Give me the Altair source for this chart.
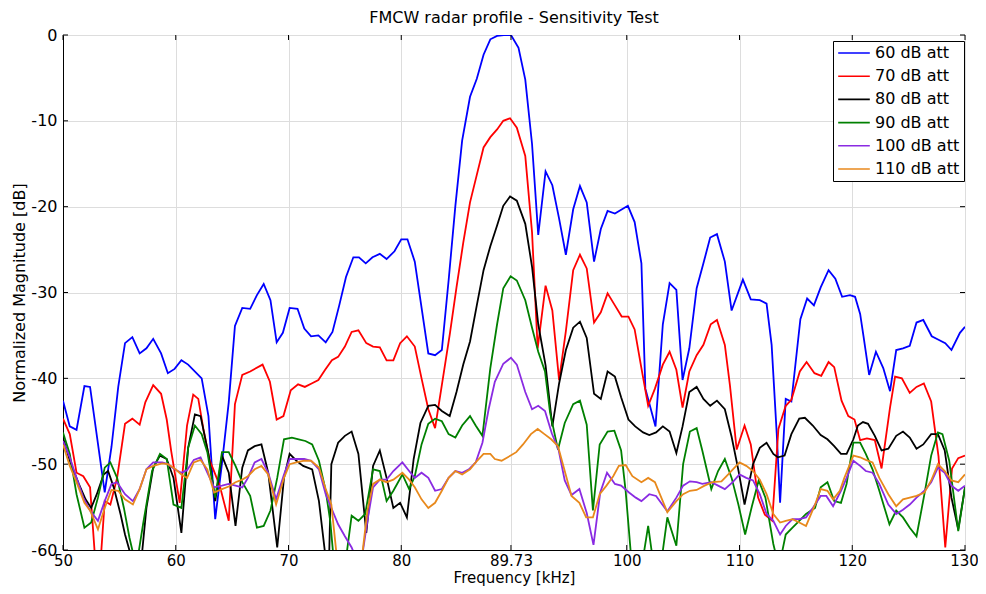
import altair as alt
import pandas as pd

# ---- data ----
series_names = ["60 dB att", "70 dB att", "80 dB att", "90 dB att", "100 dB att", "110 dB att"]
series_colors = ["#0000FF", "#FF0000", "#000000", "#008000", "#8A2BE2", "#E8891C"]

x_ticks = [50, 60, 70, 80, 89.73, 100, 110, 120, 130]
y_ticks = [-60, -50, -40, -30, -20, -10, 0]

blue_x = [50.0, 50.6, 51.2, 51.9, 52.4, 53.7, 54.3, 54.9, 55.5, 56.15, 56.8, 57.4, 58.0, 58.7, 59.3, 59.9,
          60.5, 61.1, 62.3, 62.9, 63.5, 64.1, 64.7, 65.25, 65.9, 66.6, 67.2, 67.8, 68.4, 68.95, 69.5,
          70.1, 70.8, 71.4, 72.0, 72.65, 73.3, 73.9, 74.5, 75.1, 75.75, 76.25, 76.85, 77.45, 78.1, 78.7,
          79.4, 80.0, 80.55, 81.2, 82.4, 83.0, 83.6, 84.2, 84.8, 85.4, 86.1, 86.7, 87.3, 87.9, 88.5, 89.1,
          89.73, 90.4, 91.0, 91.6, 92.15, 92.8, 93.4, 94.0, 94.6, 95.25, 95.85, 96.45, 97.1, 97.7, 98.3,
          98.95, 100.1, 100.7, 101.3, 101.65, 102.55, 103.2, 103.8, 104.4, 104.95, 105.55, 106.2, 106.8,
          107.4, 108.0, 108.7, 109.3, 110.3, 111.0, 111.8, 112.4, 112.85, 113.3, 113.6, 114.1, 114.6,
          115.4, 116.0, 116.6, 117.2, 117.9, 118.5, 119.1, 119.8, 120.25, 120.7, 121.0, 121.5, 122.1,
          122.75, 123.35, 123.9, 124.5, 125.1, 125.7, 126.3, 127.05, 127.65, 128.25, 128.8, 129.55, 130.0]
blue_y = [-42.6, -45.6, -46.0, -40.9, -41.0, -53.3, -48.0, -41.0, -35.9, -35.2, -37.1, -36.5, -35.4, -37.1, -39.4, -38.9,
          -37.9, -38.4, -40.0, -44.4, -56.4, -49.9, -42.8, -33.9, -31.8, -31.9, -30.3, -29.0, -30.9, -35.8, -34.7,
          -31.8, -31.9, -34.2, -35.1, -35.0, -35.8, -34.6, -31.5, -28.2, -25.9, -25.9, -26.6, -25.9, -25.5, -26.1,
          -25.2, -23.8, -23.8, -26.4, -37.1, -37.3, -36.7, -28.6, -19.9, -12.3, -7.2, -5.1, -2.3, -0.5, -0.1, 0.0,
          0.0, -1.5, -5.2, -12.7, -23.3, -15.9, -17.5, -21.4, -25.6, -20.3, -17.6, -19.5, -26.4, -22.6, -20.5,
          -20.8, -19.9, -21.8, -26.6, -41.2, -45.6, -33.7, -28.9, -29.7, -40.2, -36.5, -29.5, -26.6,
          -23.6, -23.2, -26.4, -32.1, -28.5, -30.8, -30.9, -31.3, -36.1, -46.4, -54.5, -42.4, -42.7,
          -33.1, -30.7, -31.5, -29.4, -27.4, -28.4, -30.5, -30.3, -30.5, -32.5, -35.1, -39.6, -36.9,
          -38.8, -41.5, -36.7, -36.5, -36.2, -33.5, -33.2, -35.1, -35.5, -35.9, -36.7, -34.7, -34.0]

red_x = [50.0, 50.6, 51.2, 51.8, 52.4, 52.9, 53.3, 53.7, 54.2, 54.8, 55.5, 56.15, 56.8, 57.3, 58.0, 58.7, 59.2,
         59.6, 60.35, 61.0, 61.55, 62.0, 62.45, 63.0, 63.9, 64.7, 65.25, 65.9, 66.6, 67.7, 68.35, 68.95, 69.55,
         70.2, 70.85, 71.45, 72.05, 72.65, 73.25, 73.85, 74.4, 75.0, 75.6, 76.2, 76.9, 77.5, 78.1, 78.7, 79.3,
         79.9, 80.5, 81.2, 81.8, 82.4, 83.0, 83.6, 84.3, 84.9, 85.5, 86.1, 86.7, 87.3, 87.9, 88.5, 89.05, 89.65,
         90.25, 91.0, 91.6, 92.1, 92.8, 93.4, 94.0, 94.6, 95.25, 95.85, 96.45, 97.1, 97.7, 98.3, 98.95, 99.55,
         100.15, 100.7, 101.3, 101.9, 102.5, 103.2, 103.8, 104.4, 104.95, 105.55, 106.2, 106.8, 107.45, 108.0,
         108.7, 109.15, 109.75, 110.45, 111.0, 111.65, 112.25, 112.9, 113.45, 114.1, 114.6, 115.35, 115.95,
         116.65, 117.25, 117.9, 118.4, 119.05, 119.65, 120.2, 120.7, 121.3, 122.0, 122.6, 123.35, 123.8, 124.4,
         125.1, 125.7, 126.35, 127.0, 127.65, 128.25, 128.85, 129.4, 130.0]
red_y = [-44.7, -46.5, -51.0, -51.4, -52.7, -62.0, -62.0, -54.3, -54.7, -51.6, -45.3, -44.7, -45.4, -42.8, -40.8, -41.8, -44.8,
         -48.5, -54.5, -45.5, -41.9, -42.4, -45.9, -49.5, -52.5, -56.6, -43.0, -39.6, -39.2, -38.4, -40.4, -44.8, -44.4,
         -41.4, -40.7, -41.0, -40.6, -40.2, -39.0, -37.9, -37.5, -36.3, -34.6, -34.4, -35.9, -36.3, -36.4, -37.9, -37.9,
         -35.9, -35.1, -36.3, -40.0, -43.6, -45.8, -40.8, -34.9, -29.4, -24.2, -19.5, -16.3, -13.1, -11.9, -11.0, -10.0, -9.7,
         -10.8, -14.1, -23.0, -36.5, -29.2, -32.1, -40.2, -34.5, -27.4, -25.6, -27.2, -33.5, -32.3, -30.1, -31.5, -32.8,
         -32.8, -34.3, -38.8, -43.2, -41.2, -38.4, -36.9, -39.0, -43.4, -39.2, -37.3, -36.1, -33.7, -33.2,
         -36.1, -40.8, -48.3, -45.5, -47.7, -53.9, -55.9, -56.6, -45.9, -43.2, -42.5, -39.2, -38.1,
         -39.4, -39.7, -38.1, -38.7, -42.6, -44.4, -44.8, -47.2, -47.0, -47.2, -50.5, -43.4, -39.8, -40.0,
         -41.7, -41.0, -40.6, -42.7, -49.1, -59.7, -50.5, -49.3, -49.0]

black_x = [50.0, 50.6, 51.4, 52.0, 52.5, 53.0, 53.6, 54.0, 54.5, 55.1, 55.5, 56.1, 56.6, 57.0, 57.4, 58.0, 58.6,
           59.2, 59.8, 60.5, 61.1, 61.7, 62.2, 62.9, 63.5, 64.1, 64.7, 65.3, 65.9, 66.4, 67.0, 67.6, 68.2, 69.0,
           69.6, 70.1, 70.7, 71.3, 72.1, 72.7, 73.3, 73.6, 73.8, 74.4, 75.0, 75.6, 76.2, 76.9, 77.5, 78.1, 78.7,
           79.3, 79.9, 80.5, 81.1, 81.7, 82.4, 83.0, 83.6, 84.3, 84.9, 85.5, 86.1, 86.7, 87.3, 87.9, 88.5, 89.05,
           89.65, 90.25, 91.0, 91.6, 92.15, 92.8, 93.4, 94.0, 94.6, 95.25, 95.85, 96.45, 97.1, 97.7, 98.3, 98.95,
           99.5, 100.15, 100.75, 101.45, 102.0, 102.6, 103.2, 103.8, 104.4, 104.95, 105.55, 106.2, 106.8, 107.4,
           108.0, 108.7, 109.3, 109.9, 110.45, 111.2, 111.8, 112.4, 113.0, 113.4, 114.0, 114.6, 115.3, 115.8,
           116.5, 117.2, 117.8, 118.4, 119.0, 119.5, 120.1, 120.5, 120.95, 121.4, 122.0, 122.6, 123.2, 123.9,
           124.5, 125.1, 125.7, 126.3, 127.0, 127.6, 128.2, 128.8, 129.4, 130.0]
black_y = [-46.9, -49.6, -52.3, -54.1, -55.1, -53.5, -51.2, -50.8, -52.7, -55.8, -58.2, -61.0, -62.0, -60.5, -55.1, -50.4, -49.0,
           -49.4, -51.6, -58.0, -48.1, -44.2, -44.4, -48.8, -54.3, -49.0, -51.0, -57.2, -50.4, -48.4, -47.9, -47.7, -51.0, -59.7,
           -51.6, -48.8, -49.6, -50.2, -50.6, -54.3, -61.0, -61.0, -50.0, -47.5, -46.7, -46.2, -48.8, -58.0, -50.2, -48.4, -51.6,
           -55.1, -54.5, -56.2, -49.4, -45.2, -43.2, -43.1, -43.8, -44.4, -41.6, -38.4, -35.7, -31.5, -27.4, -24.6, -22.2, -19.9,
           -18.8, -19.3, -22.0, -27.0, -33.7, -38.5, -45.6, -40.6, -36.7, -34.1, -33.4, -35.3, -41.8, -42.4, -39.2, -39.8,
           -42.2, -44.8, -45.6, -46.3, -46.6, -46.3, -45.6, -46.2, -48.7, -45.6, -41.6, -41.0, -42.4, -43.2,
           -42.6, -43.6, -46.8, -50.7, -54.7, -50.0, -48.1, -47.5, -48.8, -49.2, -49.0, -46.5, -44.7, -44.6,
           -45.5, -46.6, -47.1, -47.9, -48.8, -48.8, -47.1, -45.5, -45.1, -45.3, -46.7, -48.4, -48.2, -46.7,
           -46.2, -46.9, -48.2, -47.7, -46.5, -46.5, -48.4, -53.9, -57.6, -52.7]

green_x = [50.0, 50.6, 51.2, 51.9, 52.5, 53.1, 53.7, 54.2, 54.8, 55.4, 55.9, 56.5, 57.1, 57.9, 58.6, 59.2, 59.8,
           60.5, 61.1, 61.7, 62.3, 62.8, 63.5, 64.1, 64.7, 65.3, 65.9, 66.6, 67.2, 67.8, 68.4, 69.0, 69.6, 70.3,
           70.9, 71.5, 72.1, 72.7, 73.3, 73.7, 74.0, 74.5, 75.1, 75.6, 76.2, 76.8, 77.5, 78.1, 78.7, 79.3, 80.1,
           80.7, 81.2, 81.8, 82.4, 83.0, 83.6, 84.2, 84.8, 85.4, 86.1, 86.6, 87.2, 87.9, 88.5, 89.05, 89.7, 90.25,
           91.0, 91.6, 92.15, 92.75, 93.2, 93.9, 94.5, 95.25, 95.85, 96.45, 97.0, 97.6, 98.3, 98.9, 99.5, 99.9,
           100.4, 100.9, 101.5, 101.9, 102.3, 103.0, 103.6, 104.4, 105.0, 105.6, 106.2, 106.7, 107.5, 108.1,
           108.7, 109.3, 109.9, 110.5, 111.1, 111.7, 112.3, 113.0, 113.5, 114.1, 114.7, 115.3, 115.9, 116.7,
           117.2, 117.8, 118.4, 119.0, 119.5, 120.1, 120.7, 121.2, 121.8, 122.4, 123.3, 123.9, 124.5, 125.1,
           125.7, 126.4, 127.0, 127.6, 128.0, 128.6, 129.4, 130.0]
green_y = [-46.3, -48.8, -53.5, -57.4, -56.8, -53.9, -50.4, -49.8, -51.6, -55.1, -58.6, -62.0, -57.0, -50.8, -48.8, -49.4, -54.7,
           -55.1, -48.1, -45.5, -46.5, -48.6, -53.9, -48.6, -48.6, -50.2, -52.1, -53.7, -57.4, -57.2, -55.4, -51.6, -47.1, -46.9,
           -47.1, -47.3, -47.7, -49.6, -53.1, -56.6, -61.0, -63.0, -61.0, -56.0, -56.6, -55.8, -50.6, -50.8, -54.3, -53.1, -51.2,
           -52.9, -51.4, -47.7, -45.3, -44.7, -45.0, -46.5, -46.9, -45.5, -44.4, -45.5, -46.7, -38.8, -33.7, -29.5, -28.1, -28.6,
           -30.9, -34.1, -36.9, -39.2, -44.0, -48.3, -45.2, -43.0, -42.6, -45.4, -55.4, -47.7, -46.2, -46.1, -48.4, -53.1,
           -61.0, -62.0, -60.5, -57.2, -61.0, -62.0, -56.2, -59.5, -50.0, -46.2, -45.8, -48.4, -52.9, -50.8,
           -49.4, -51.6, -54.7, -58.2, -54.9, -51.9, -53.9, -59.3, -62.0, -58.2, -57.4, -56.6, -55.8, -55.1,
           -52.7, -52.1, -54.3, -54.5, -52.3, -47.5, -47.5, -48.8, -50.6, -53.1, -57.0, -55.4, -56.2, -57.4,
           -58.4, -53.5, -49.0, -46.3, -46.5, -49.6, -57.8, -52.7]

purple_x = [50.0, 50.6, 51.2, 51.8, 52.4, 53.1, 53.7, 54.3, 54.8, 55.5, 56.2, 56.8, 57.4, 58.0, 58.8, 59.3, 59.9,
            60.5, 61.0, 61.6, 62.2, 62.8, 63.4, 64.1, 64.7, 65.3, 65.9, 66.4, 67.0, 67.6, 68.2, 68.9, 69.6, 70.1,
            70.7, 71.4, 72.0, 72.7, 73.3, 73.8, 74.4, 75.0, 75.6, 76.0, 76.5, 77.0, 77.5, 78.1, 78.7, 79.3, 80.1,
            80.7, 81.2, 81.8, 82.4, 83.0, 83.6, 84.2, 84.8, 85.4, 86.0, 86.6, 87.2, 87.75, 88.3, 89.05, 89.73,
            90.25, 91.0, 91.6, 92.15, 92.75, 93.35, 93.95, 94.5, 95.1, 95.8, 96.45, 97.05, 97.65, 98.25, 98.95,
            99.5, 100.2, 100.8, 101.3, 102.0, 102.6, 103.6, 104.4, 105.0, 105.6, 106.2, 106.7, 107.5, 108.1,
            108.7, 109.4, 110.0, 110.6, 111.2, 111.8, 112.4, 113.0, 113.6, 114.1, 114.7, 115.3, 115.9, 116.5,
            117.2, 117.7, 118.3, 119.0, 119.5, 120.1, 120.7, 121.2, 121.8, 122.4, 123.2, 123.9, 124.5, 125.1,
            125.7, 126.4, 127.0, 127.6, 128.2, 128.8, 129.4, 130.0]
purple_y = [-47.3, -49.2, -51.6, -53.9, -55.4, -56.6, -54.3, -52.3, -52.1, -53.5, -54.3, -52.9, -50.6, -49.8, -49.8, -50.0, -50.6,
            -51.0, -50.7, -49.5, -49.2, -51.0, -52.7, -52.5, -52.3, -52.5, -52.7, -51.6, -49.8, -49.4, -51.0, -54.1, -51.2, -49.4,
            -49.4, -49.4, -49.6, -50.6, -53.5, -55.1, -57.0, -58.4, -59.7, -61.0, -61.0, -56.6, -52.7, -51.8, -51.8, -50.8, -49.8,
            -50.8, -51.6, -51.0, -51.6, -53.1, -52.9, -51.6, -50.8, -51.0, -50.6, -49.8, -47.5, -43.6, -40.4, -38.3, -37.6,
            -38.4, -41.6, -43.6, -43.2, -43.8, -46.4, -48.3, -51.9, -53.6, -52.9, -55.7, -59.4, -53.3, -51.0, -52.3,
            -52.5, -53.3, -53.9, -54.3, -53.5, -53.7, -55.5, -53.9, -52.5, -52.0, -52.1, -52.3, -52.1, -52.5,
            -52.9, -52.1, -51.2, -51.6, -51.9, -53.5, -55.8, -56.6, -58.2, -57.2, -56.4, -56.4, -56.2, -55.1,
            -53.7, -53.7, -54.9, -53.1, -51.6, -49.6, -50.2, -50.8, -51.0, -52.3, -54.7, -55.8, -55.3, -54.7,
            -53.9, -53.1, -52.1, -50.4, -51.0, -52.5, -53.1, -52.5]

orange_x = [50.0, 50.6, 51.2, 51.9, 52.4, 53.1, 53.7, 54.3, 54.9, 55.5, 56.2, 56.8, 57.4, 58.0, 58.8, 59.3, 59.9,
            60.5, 61.0, 61.6, 62.2, 62.8, 63.4, 64.1, 64.7, 65.3, 65.9, 66.4, 67.0, 67.6, 68.2, 68.9, 69.6, 70.1,
            70.7, 71.4, 72.0, 72.7, 73.3, 73.8, 74.3, 74.8, 76.0, 76.5, 77.0, 77.5, 78.1, 78.7, 79.3, 80.1, 80.7,
            81.2, 81.8, 82.4, 83.0, 83.6, 84.2, 84.8, 85.4, 86.1, 86.6, 87.3, 87.9, 88.3, 88.9, 89.7, 90.2, 90.8,
            91.5, 92.1, 92.7, 93.3, 93.9, 94.5, 95.1, 95.8, 96.4, 97.0, 97.6, 98.2, 98.8, 99.3, 99.9, 100.5,
            101.3, 101.9, 102.5, 103.0, 103.6, 104.4, 105.0, 105.6, 106.2, 106.9, 107.6, 108.4, 109.0, 110.0,
            110.6, 111.2, 111.8, 112.4, 113.0, 113.6, 114.1, 114.7, 115.3, 115.9, 116.7, 117.2, 117.8, 118.3,
            118.9, 119.3, 120.1, 120.7, 121.2, 121.8, 122.4, 123.2, 123.9, 124.5, 125.1, 125.7, 126.4, 127.0,
            127.6, 128.2, 128.8, 129.4, 130.0]
orange_y = [-47.7, -50.2, -52.1, -54.5, -55.4, -57.6, -55.1, -53.0, -53.1, -54.1, -54.7, -52.9, -50.6, -50.2, -49.9, -50.0, -50.5,
            -51.2, -51.6, -49.8, -49.5, -50.6, -53.3, -52.9, -52.6, -52.1, -51.8, -51.4, -50.6, -50.2, -51.2, -54.7, -51.6, -50.0,
            -49.8, -49.6, -49.6, -50.4, -52.9, -54.7, -61.0, -63.0, -63.0, -61.0, -55.4, -52.3, -51.8, -52.1, -51.8, -51.0, -51.8,
            -52.7, -54.1, -55.1, -54.5, -53.1, -51.6, -50.8, -51.2, -50.6, -49.8, -48.8, -48.8, -49.4, -49.6, -49.0, -48.6, -47.7,
            -46.5, -45.9, -46.5, -47.1, -47.9, -50.8, -53.7, -54.5, -56.2, -56.2, -53.5, -52.5, -51.4, -50.2, -50.1, -51.4,
            -52.1, -51.6, -52.1, -53.7, -55.6, -54.3, -53.5, -53.1, -53.0, -52.5, -52.1, -52.0, -51.2, -49.8,
            -50.2, -50.8, -51.8, -53.5, -55.8, -56.8, -56.6, -56.4, -56.8, -57.2, -54.7, -52.9, -53.1, -54.1,
            -53.1, -51.6, -49.0, -49.2, -49.5, -49.8, -51.6, -53.5, -54.9, -54.1, -53.9, -53.7, -53.3, -51.9,
            -50.0, -50.8, -51.9, -52.1, -51.2]

all_x = [blue_x, red_x, black_x, green_x, purple_x, orange_x]
all_y = [blue_y, red_y, black_y, green_y, purple_y, orange_y]

rows = []
for name, xs, ys in zip(series_names, all_x, all_y):
    for i, (xv, yv) in enumerate(zip(xs, ys)):
        rows.append({"series": name, "freq": xv, "mag": yv, "idx": i})
df = pd.DataFrame(rows)

W, H = 902, 515
FONT = "DejaVu Sans"
FS = 16
FSX = 15

color_scale = alt.Scale(domain=series_names, range=series_colors)
x_scale = alt.Scale(domain=[50, 130], nice=False, zero=False)
y_scale = alt.Scale(domain=[-60, 0], nice=False, zero=False)

x_axis = alt.Axis(values=x_ticks, labelExpr="datum.value + ''", grid=True, ticks=False,
                  title="Frequency [kHz]", titleFontWeight="normal", titleFontSize=FSX, titleFont=FONT,
                  titleX=W / 2, titleY=32, titleBaseline="alphabetic", labelFontSize=FSX, labelFont=FONT,
                  labelPadding=3, labelColor="#000", titleColor="#000", domainColor="#000",
                  labelFlush=False,
                  labelOffset={"condition": {"test": "datum.value == 130", "value": -1}, "value": 0})
y_axis = alt.Axis(values=y_ticks, labelExpr="datum.value + ''", grid=True, ticks=False,
                  title="Normalized Magnitude [dB]", titleFontWeight="normal", titleFontSize=FS,
                  titleFont=FONT, titleX=-36, titleY=H / 2, titleBaseline="bottom", labelFontSize=FS,
                  labelFont=FONT, labelPadding=6, labelColor="#000", titleColor="#000",
                  domainColor="#000")

legend = alt.Legend(title=None, orient="none", legendX=770, legendY=6,
                    symbolType="stroke", symbolSize=1000, symbolStrokeWidth=1.6,
                    labelFontSize=FS, labelFont=FONT, labelColor="#000",
                    strokeColor="#000", fillColor="#fff", padding=4, clipHeight=16,
                    rowPadding=7.2, labelOffset=4, cornerRadius=0, values=series_names)

base = alt.Chart(df)
layers = []
for k, name in enumerate(series_names):
    layers.append(
        base.transform_filter(alt.datum.series == name)
        .mark_line(clip=True, strokeWidth=1.8)
        .encode(
            x=alt.X("freq:Q", scale=x_scale, axis=x_axis),
            y=alt.Y("mag:Q", scale=y_scale, axis=y_axis),
            color=alt.Color("series:N", scale=color_scale, legend=legend),
            order=alt.Order("idx:Q"),
        )
    )

# inward tick marks (MATLAB style) on all four sides
xt = pd.DataFrame({"t": x_ticks})
yt = pd.DataFrame({"t": y_ticks})
tick_x_bottom = alt.Chart(xt).mark_rule(color="#000").encode(
    x=alt.X("t:Q", scale=x_scale, axis=x_axis), y=alt.value(H - 5), y2=alt.value(H))
tick_x_top = alt.Chart(xt).mark_rule(color="#000").encode(
    x=alt.X("t:Q", scale=x_scale, axis=x_axis), y=alt.value(0), y2=alt.value(5))
tick_y_left = alt.Chart(yt).mark_rule(color="#000").encode(
    y=alt.Y("t:Q", scale=y_scale, axis=y_axis), x=alt.value(0), x2=alt.value(5))
tick_y_right = alt.Chart(yt).mark_rule(color="#000").encode(
    y=alt.Y("t:Q", scale=y_scale, axis=y_axis), x=alt.value(W - 5), x2=alt.value(W))

chart = alt.layer(*layers, tick_x_bottom, tick_x_top, tick_y_left, tick_y_right).properties(
    width=W, height=H,
    title=alt.TitleParams("FMCW radar profile - Sensitivity Test", fontSize=FS, fontWeight="normal",
                          font=FONT, color="#000", anchor="middle", offset=1),
    autosize=alt.AutoSizeParams(type="none"),
    padding={"left": 55, "top": 27, "right": 13, "bottom": 36},
).configure_view(stroke="#000", strokeWidth=1).configure_axis(
    gridColor="#000", gridOpacity=0.55, gridDash=[1, 3], gridWidth=1, domainWidth=1
).configure(background="#ffffff")

chart.save("out.html", embed_options={"renderer": "svg", "actions": False})
